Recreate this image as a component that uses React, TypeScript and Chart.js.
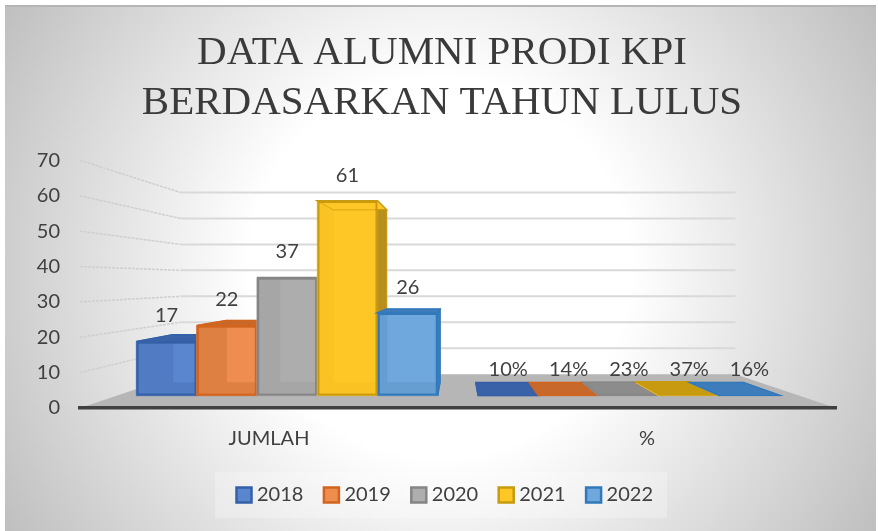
import React, { useEffect, useRef } from "react";
import { Chart, registerables } from "chart.js";

Chart.register(...registerables);

const categories = ["JUMLAH", "%"];
const years = ["2018", "2019", "2020", "2021", "2022"];
const jumlah = [17, 22, 37, 61, 26];
const persen = [0.1, 0.14, 0.23, 0.37, 0.16];
const yTicks = { min: 0, max: 70, step: 10 };
const titleLines = ["DATA ALUMNI PRODI KPI", "BERDASARKAN TAHUN LULUS"];

const solids = ["#5a85cf", "#ef8d50", "#aeaeae", "#ffc726", "#6fa8dc"];
const fronts = ["rgba(90,133,207,0.45)", "rgba(239,141,80,0.45)", "rgba(174,174,174,0.45)", "rgba(255,199,38,0.55)", "rgba(111,168,220,0.45)"];
const edges = ["#3560a8", "#d2641e", "#858585", "#c79a10", "#3279ba"];
const darks = ["#3a62a8", "#c8682a", "#8c8c8c", "#c89a10", "#3f7cbc"];
const lefts = ["#4a74bb", "#d2763a", "#a0a0a0", "#f4bd1e", "#6096ca"];
const sides = ["rgba(47,85,151,0.8)", "rgba(197,90,17,0.8)", "rgba(127,127,127,0.8)", "rgba(180,140,30,0.95)", "rgba(46,117,182,0.8)"];

const TEXT = "#404040";
const VP_Y = 281;
const K_FRONT = 0.904;
const K_BACK = 0.802;
const K_WALL = 0.734;

const scene = {
  id: "scene",
  beforeDraw(chart: any) {
    const { ctx, chartArea: a, scales, width, height } = chart;
    const vx = (a.left + a.right) / 2;
    const px = (x: number, k: number) => vx + (x - vx) * k;
    const py = (y: number, k: number) => VP_Y + (y - VP_Y) * k;
    ctx.save();
    ctx.fillStyle = "#ffffff";
    ctx.fillRect(0, 0, width, height);
    // panel with a radial gradient
    const g = ctx.createRadialGradient(440, 268, 190, 440, 268, 513);
    g.addColorStop(0, "#ffffff");
    g.addColorStop(1, "#bebebe");
    ctx.fillStyle = g;
    ctx.fillRect(5, 5, 871, height - 5);
    ctx.strokeStyle = "#b5b5b5";
    ctx.lineWidth = 2;
    ctx.beginPath();
    ctx.moveTo(5, 6);
    ctx.lineTo(876, 6);
    ctx.stroke();
    // legend panel
    ctx.fillStyle = "rgba(255,255,255,0.25)";
    ctx.fillRect(215, 472, 452, 46);
    // walls
    const y = scales.y;
    y.ticks.forEach((t: any) => {
      const p = y.getPixelForValue(t.value);
      if (t.value > 0) {
        ctx.strokeStyle = "#cfcfcf";
        ctx.lineWidth = 1.5;
        ctx.setLineDash([3, 1]);
        ctx.beginPath();
        ctx.moveTo(a.left, p);
        ctx.lineTo(px(a.left, K_WALL), py(p, K_WALL));
        ctx.stroke();
        ctx.setLineDash([]);
        ctx.strokeStyle = "#d9d9d9";
        ctx.lineWidth = 2;
        ctx.beginPath();
        ctx.moveTo(px(a.left, K_WALL), py(p, K_WALL));
        ctx.lineTo(px(a.right, K_WALL), py(p, K_WALL));
        ctx.stroke();
      }
    });
    // floor
    ctx.fillStyle = "#b6b6b6";
    ctx.beginPath();
    ctx.moveTo(a.left, a.bottom);
    ctx.lineTo(a.right, a.bottom);
    ctx.lineTo(px(a.right, K_WALL), py(a.bottom, K_WALL));
    ctx.lineTo(px(a.left, K_WALL), py(a.bottom, K_WALL));
    ctx.closePath();
    ctx.fill();
    ctx.restore();
  },
  beforeDatasetsDraw(chart: any) {
    const { ctx, chartArea: a } = chart;
    const vx = (a.left + a.right) / 2;
    const P = (x: number, y: number, k: number): [number, number] => [vx + (x - vx) * k, VP_Y + (y - VP_Y) * k];
    const poly = (pts: [number, number][], fill: string, stroke: string, lw = 1.5) => {
      ctx.beginPath();
      pts.forEach((p, i) => (i ? ctx.lineTo(p[0], p[1]) : ctx.moveTo(p[0], p[1])));
      ctx.closePath();
      ctx.fillStyle = fill;
      ctx.fill();
      ctx.strokeStyle = stroke;
      ctx.lineWidth = lw;
      ctx.stroke();
    };
    categories.forEach((_, ci) => {
      years.forEach((__, di) => {
        const el: any = chart.getDatasetMeta(di).data[ci];
        const L = el.x - el.width / 2;
        const R = el.x + el.width / 2;
        const T = el.y;
        const B = el.base;
        const f = (x: number, y: number) => P(x, y, K_FRONT);
        const b = (x: number, y: number) => P(x, y, K_BACK);
        ctx.save();
        poly([b(L, T), b(R, T), b(R, B), b(L, B)], solids[di], lefts[di], 1);
        poly([f(L, B), f(R, B), b(R, B), b(L, B)], lefts[di], lefts[di], 0.5);
        poly([f(L, T), b(L, T), b(L, B), f(L, B)], lefts[di], lefts[di], 1);
        poly([f(R, T), b(R, T), b(R, B), f(R, B)], sides[di], edges[di], 1);
        const below = f(L, T)[1] > VP_Y + 10;
        poly([f(L, T), f(R, T), b(R, T), b(L, T)], below ? darks[di] : solids[di], edges[di], 1.5);
        // the library's own bar element is the front face
        ctx.translate(vx, VP_Y);
        ctx.scale(K_FRONT, K_FRONT);
        ctx.translate(-vx, -VP_Y);
        el.draw(ctx);
        ctx.restore();
      });
    });
    return false;
  },
  afterDraw(chart: any) {
    const { ctx, chartArea: a } = chart;
    const vx = (a.left + a.right) / 2;
    ctx.save();
    ctx.font = "20px Lato";
    ctx.fillStyle = TEXT;
    ctx.textAlign = "center";
    ctx.textBaseline = "middle";
    categories.forEach((_, ci) => {
      years.forEach((__, di) => {
        const el: any = chart.getDatasetMeta(di).data[ci];
        const v = chart.data.datasets[di].data[ci];
        const text = v < 1 ? `${Math.round(v * 100)}%` : String(v);
        ctx.fillText(text, vx + (el.x - vx) * K_FRONT, VP_Y + (el.y - VP_Y) * K_FRONT - 25.5);
      });
    });
    ctx.restore();
  },
  afterLayout(chart: any) {
    chart.legend.left += 29;
    chart.legend.right += 29;
    chart.titleBlock.left += 24;
    chart.titleBlock.right += 24;
  },
};

export default function App() {
  const ref = useRef<HTMLCanvasElement>(null);
  useEffect(() => {
    const chart = new Chart(ref.current as HTMLCanvasElement, {
      type: "bar",
      data: {
        labels: categories,
        datasets: years.map((year, i) => ({
          label: year,
          data: [jumlah[i], persen[i]],
          backgroundColor: fronts[i],
          borderColor: edges[i],
          borderWidth: 2.5,
          borderSkipped: false,
          categoryPercentage: 0.8825,
          barPercentage: 1,
        })),
      },
      plugins: [scene],
      options: {
        animation: false,
        responsive: false,
        layout: { padding: { left: 0, right: 42, top: 0, bottom: 16 } },
        plugins: {
          tooltip: { enabled: false },
          title: {
            display: true,
            text: titleLines,
            color: "#3a3a3a",
            font: { family: "'Liberation Serif'", size: 41, weight: "normal", lineHeight: 1.2 },
            padding: { top: 29, bottom: 33 },
          },
          legend: {
            display: true,
            position: "bottom",
            labels: {
              color: TEXT,
              font: { family: "Lato", size: 20 },
              usePointStyle: true,
              pointStyle: "rect",
              boxWidth: 6,
              boxHeight: 15,
              padding: 25,
              generateLabels: (c: any) =>
                Chart.defaults.plugins.legend.labels.generateLabels(c).map((item: any, i: number) => ({ ...item, fillStyle: solids[i] })),
            },
          },
        },
        scales: {
          x: {
            grid: { display: false },
            border: { display: true, color: "#404040", width: 3.5 },
            ticks: { color: TEXT, font: { family: "Lato", size: 20 }, padding: 11 },
            afterFit: (s: any) => { s.height = 52; },
          },
          y: {
            min: yTicks.min,
            max: yTicks.max,
            grid: { display: false, drawTicks: false },
            border: { display: false },
            ticks: { stepSize: yTicks.step, color: TEXT, font: { family: "Lato", size: 20 }, padding: 20 },
            afterFit: (s: any) => { s.width = 80; },
          },
        },
      },
    } as any);
    return () => chart.destroy();
  }, []);
  return (
    <div style={{ position: "fixed", left: 0, top: 0, width: 878, height: 531 }}>
      <canvas ref={ref} width={878} height={531} style={{ display: "block" }} />
    </div>
  );
}
